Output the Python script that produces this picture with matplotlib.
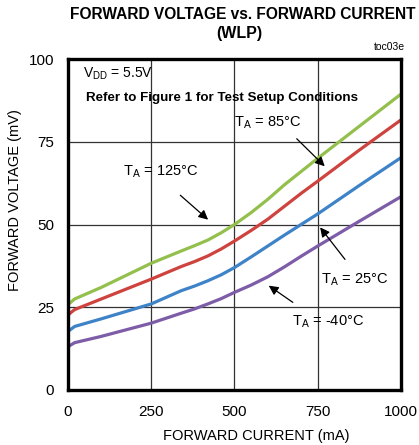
import matplotlib
matplotlib.use("Agg")
import matplotlib.pyplot as plt
from matplotlib import font_manager

# font: narrow arial-like if available
names = {f.name for f in font_manager.fontManager.ttflist}
fam = "Liberation Sans Narrow" if "Liberation Sans Narrow" in names else "Liberation Sans"
plt.rcParams['font.family'] = [fam, 'DejaVu Sans']

# data (mA, mV)
current = [0, 20, 100, 250, 340, 380, 420, 460, 500, 550, 600, 650, 700, 750, 875, 1000]
vf_125 = [25.8, 27.5, 31.0, 38.3, 42.0, 43.6, 45.3, 47.5, 50.0, 53.6, 57.6, 62.0, 66.0, 70.0, 79.7, 89.4]
vf_85 = [22.7, 24.3, 27.5, 33.5, 37.3, 38.8, 40.5, 42.6, 45.0, 48.2, 51.6, 55.5, 59.4, 63.1, 72.5, 81.6]
vf_25 = [17.7, 19.2, 21.5, 26.0, 30.0, 31.4, 33.0, 34.8, 37.0, 40.2, 43.5, 46.8, 50.0, 53.2, 61.8, 70.2]
vf_m40 = [13.1, 14.3, 16.2, 20.2, 23.2, 24.5, 26.0, 27.6, 29.5, 31.7, 34.2, 37.2, 40.4, 43.5, 51.0, 58.4]

xticks = [0, 250, 500, 750, 1000]
yticks = [0, 25, 50, 75, 100]

fig = plt.figure(figsize=(4.19, 4.45), dpi=100)
ax = fig.add_axes([0.1623, 0.1236, 0.7947, 0.7438])

ax.plot(current, vf_125, color="#93C04C", lw=2.3, solid_capstyle="round")
ax.plot(current, vf_85, color="#CF433F", lw=2.3, solid_capstyle="round")
ax.plot(current, vf_25, color="#3E83C8", lw=2.3, solid_capstyle="round")
ax.plot(current, vf_m40, color="#7D5CA8", lw=2.3, solid_capstyle="round")

ax.set_xlim(0, 1000)
ax.set_ylim(0, 100)
ax.set_xticks(xticks)
ax.set_yticks(yticks)
ax.grid(True, color="#333333", lw=0.9)
ax.set_axisbelow(True)
ax.tick_params(length=0, labelsize=11, pad=10)
ax.tick_params(axis="x", pad=11)
for s in ax.spines.values():
    s.set_linewidth(2.4)

ax.set_xlabel("FORWARD CURRENT (mA)", fontsize=10.5)
ax.xaxis.set_label_coords(0.565, -0.118)
ax.set_ylabel("FORWARD VOLTAGE (mV)", fontsize=10.5)
ax.yaxis.set_label_coords(-0.137, 0.574)

fig.text(0.58, 0.968, "FORWARD VOLTAGE vs. FORWARD CURRENT", ha="center", va="center",
         fontsize=11.2, fontweight="bold")
fig.text(0.571, 0.925, "(WLP)", ha="center", va="center", fontsize=11.5, fontweight="bold")
fig.text(0.967, 0.895, "toc03e", ha="right", va="center", fontsize=7.5)

ax.text(45, 95.5, "V$_{\\mathregular{DD}}$ = 5.5V", fontsize=10, va="center")
ax.text(55, 88.2, "Refer to Figure 1 for Test Setup Conditions", fontsize=9.6,
        fontweight="bold", va="center")

ax.text(500, 80.7, "T$_{\\mathregular{A}}$ = 85°C", fontsize=10.5, va="center")
ax.text(165, 65.9, "T$_{\\mathregular{A}}$ = 125°C", fontsize=10.5, va="center")
ax.text(760, 33.2, "T$_{\\mathregular{A}}$ = 25°C", fontsize=10.5, va="center")
ax.text(672, 20.6, "T$_{\\mathregular{A}}$ = -40°C", fontsize=10.5, va="center")

arrow = dict(arrowstyle="-|>", color="black", lw=0.9, mutation_scale=14)
ax.annotate("", xy=(777, 67), xytext=(681, 76.5), arrowprops=arrow)
ax.annotate("", xy=(427, 50.9), xytext=(331, 59.4), arrowprops=arrow)
ax.annotate("", xy=(752, 49.8), xytext=(837, 38.8), arrowprops=arrow)
ax.annotate("", xy=(596, 32), xytext=(682, 26), arrowprops=arrow)

fig.savefig("out.png", dpi=100)
